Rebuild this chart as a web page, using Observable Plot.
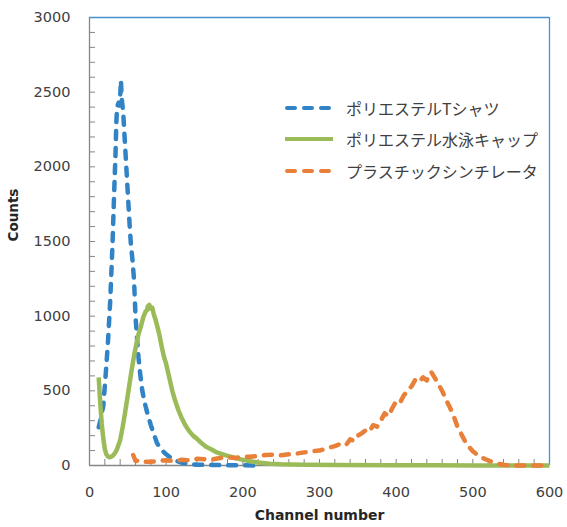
<!DOCTYPE html>
<html>
<head>
<meta charset="utf-8">
<script src="https://cdn.jsdelivr.net/npm/d3@7"></script>
<script src="https://cdn.jsdelivr.net/npm/@observablehq/plot@0.6"></script>
<style>
  body { margin: 0; background: #fff; }
  #wrap { position: relative; width: 567px; height: 527px; }
  #legend { position: absolute; left: 285px; top: 92px; font-family: "Noto Sans CJK JP", sans-serif; font-size: 16px; color: #404040; }
  .item { display: flex; align-items: center; height: 31.5px; }
  .item svg { margin-right: 13px; }
</style>
</head>
<body>
<div id="wrap"><div id="legend"></div></div>
<script>
const seriesNames = ["ポリエステルTシャツ", "ポリエステル水泳キャップ", "プラスチックシンチレータ"];
const seriesColors = ["#3283c6", "#9bbb59", "#e8803a"];
const seriesDash = ["8,9", null, "8,9"];

const tshirtCh = [12,15,18,21,24,27,30,32,34,35,36,38,39,40,41,42,44,46,48,50,52,54,56,58,60,62,64,66,68,70,73,76,80,84,88,92,96,100,105,110,115,120,130,140,160,180,200,220];
const tshirtCounts = [256,320,400,600,820,1100,1480,1800,2100,2300,2400,2430,2410,2470,2580,2460,2360,2180,2000,1820,1640,1480,1380,1250,1000,850,720,620,530,470,400,340,270,210,150,120,95,75,55,40,28,20,10,5,3,2,1,0];

const capCh = [12,14,16,18,20,22,24,26,28,30,32,34,36,38,40,43,46,49,52,55,58,61,64,67,70,73,75,76,78,80,82,84,86,88,91,94,97,100,104,108,112,116,120,125,130,135,140,146,152,158,165,172,180,190,200,210,220,235,250,280,320,400,450,500,530,600];
const capCounts = [590,420,280,180,110,75,60,55,58,65,75,90,110,140,170,250,340,440,540,640,730,810,880,930,990,1030,1040,1065,1075,1050,1055,1010,980,940,880,800,730,680,590,500,430,370,320,270,230,200,180,150,125,110,90,78,65,50,38,28,20,12,8,5,3,2,1,0,0,0];

const scintCh = [57,60,65,70,80,90,100,110,120,130,140,150,160,170,180,190,200,210,220,230,240,250,260,270,280,290,300,310,320,330,335,340,345,350,355,360,365,370,375,380,385,390,395,400,405,410,415,420,425,430,435,440,443,446,450,455,460,465,470,475,480,485,490,495,500,505,510,515,520,525,530,535,540,550,560,580,600];
const scintCounts = [70,30,35,25,25,30,35,30,38,35,45,42,40,50,55,50,60,58,65,70,72,68,75,80,88,95,100,115,130,150,140,175,165,200,215,235,225,270,260,300,350,330,385,430,420,470,500,530,575,560,590,570,610,625,590,545,500,440,390,330,260,210,160,125,95,75,60,45,35,25,15,10,5,0,0,0,0];

const xTickLabels = [0,100,200,300,400,500,600];
const yTickLabels = [0,500,1000,1500,2000,2500,3000];

const chs = [tshirtCh, capCh, scintCh];
const cnts = [tshirtCounts, capCounts, scintCounts];
const data = chs.flatMap((c, i) => c.map((x, j) => ({series: seriesNames[i], ch: x, counts: cnts[i][j]})));

const grey = "#868686";
const frameBlue = "#4a8fd0";
const font = "DejaVu Sans, Verdana, sans-serif";

const lineMarks = seriesNames.map((name, i) => Plot.line(data.filter(d => d.series === name), {
  x: "ch", y: "counts", stroke: seriesColors[i], strokeWidth: 4.5,
  strokeDasharray: seriesDash[i] || undefined, strokeLinecap: seriesDash[i] ? "round" : "butt", strokeLinejoin: "round"
}));

const chart = Plot.plot({
  width: 567, height: 527,
  marginLeft: 89, marginRight: 18, marginTop: 17, marginBottom: 62,
  style: {fontFamily: font, background: "#fff"},
  x: {domain: [0, 600]},
  y: {domain: [0, 3000]},
  marks: [
    Plot.axisY({ticks: d3.range(0, 3001, 100), tickSize: 6, dx: 6, text: null, stroke: grey, label: null}),
    Plot.axisX({ticks: d3.range(0, 601, 20), tickSize: 6, dy: -6, text: null, stroke: grey, label: null}),
    Plot.axisY({ticks: yTickLabels, tickFormat: d => String(d), tickSize: 0, tickPadding: 19, fontSize: 14.5, fill: "#404040", label: null}),
    Plot.axisX({ticks: xTickLabels, tickFormat: d => String(d), tickSize: 0, tickPadding: 21, fontSize: 14.5, fill: "#404040", label: null}),
    Plot.ruleX([0], {stroke: grey, strokeWidth: 1.3}),
    Plot.ruleY([0], {stroke: grey, strokeWidth: 1.3}),
    Plot.ruleY([3000], {stroke: frameBlue, strokeWidth: 1.3}),
    Plot.ruleX([600], {stroke: frameBlue, strokeWidth: 1.3}),
    ...lineMarks,
    Plot.text(["Counts"], {frameAnchor: "left", dx: -76, rotate: -90, fontWeight: "bold", fontSize: 13.5, fill: "#262626"}),
    Plot.text(["Channel number"], {frameAnchor: "bottom", dy: 54, fontWeight: "bold", fontSize: 14, fill: "#262626"})
  ]
});
document.getElementById("wrap").prepend(chart);

const legend = document.getElementById("legend");
seriesNames.forEach((name, i) => {
  const item = document.createElement("div");
  item.className = "item";
  const dash = seriesDash[i] ? `stroke-dasharray="${seriesDash[i]}" stroke-linecap="round"` : "";
  item.innerHTML = `<svg width="48" height="8"><line x1="${seriesDash[i] ? 2 : 0}" y1="4" x2="48" y2="4" stroke="${seriesColors[i]}" stroke-width="4" ${dash}/></svg><span>${name}</span>`;
  legend.appendChild(item);
});
</script>
</body>
</html>
